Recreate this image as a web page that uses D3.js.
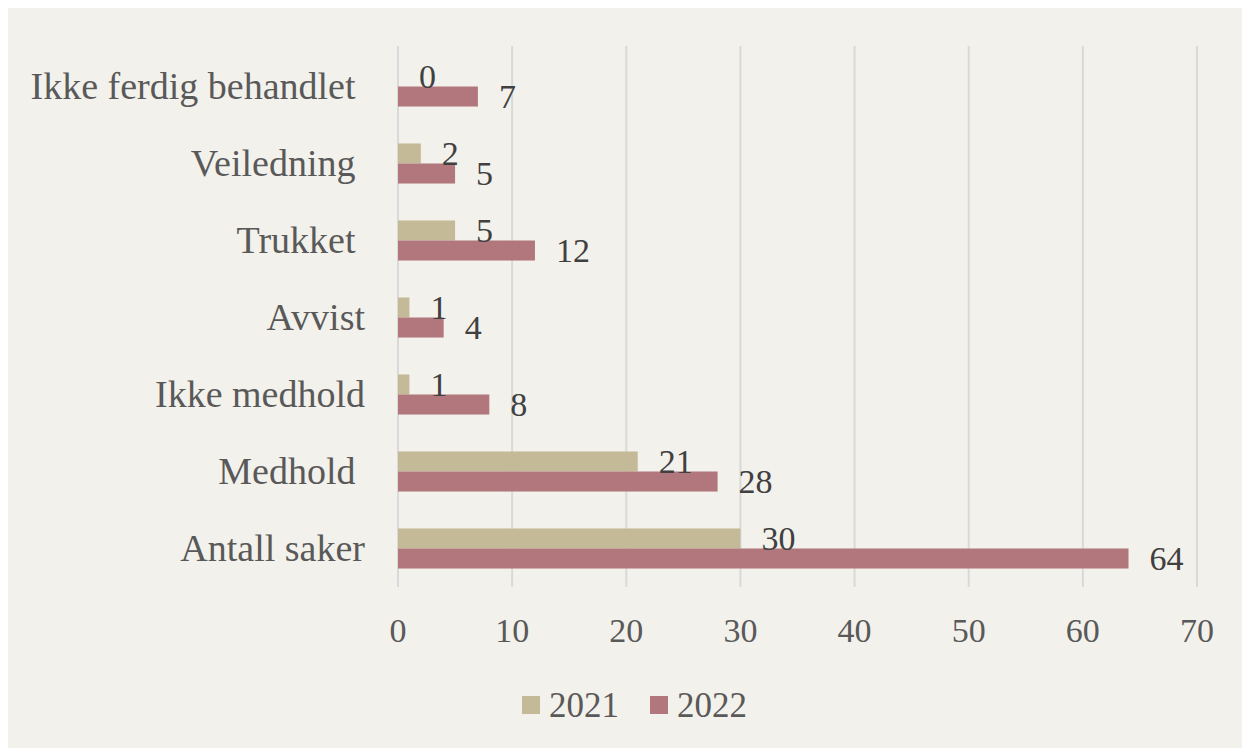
<!DOCTYPE html>
<html>
<head>
<meta charset="utf-8">
<script src="https://cdn.jsdelivr.net/npm/d3@7"></script>
<style>
  body { margin: 0; background: #fff; overflow: hidden; }
  svg { display: block; }
  text { font-family: "Liberation Serif", "Times New Roman", serif; white-space: pre; }
</style>
</head>
<body>
<div id="chart"></div>
<script>
// categories, top to bottom as shown
const categories = ["Ikke ferdig behandlet ", "Veiledning ", "Trukket ", "Avvist", "Ikke medhold", "Medhold ", "Antall saker"];
const years = ["2021", "2022"];
const values2021 = [0, 2, 5, 1, 1, 21, 30];
const values2022 = [7, 5, 12, 4, 8, 28, 64];
const xTicks = [0, 10, 20, 30, 40, 50, 60, 70];
const colors = { "2021": "#c4ba97", "2022": "#b2777c" };

const width = 1242, height = 748;

const svg = d3.select("#chart").append("svg")
    .attr("width", width)
    .attr("height", height);

svg.append("rect")
    .attr("x", 8).attr("y", 8)
    .attr("width", width - 8).attr("height", height - 8)
    .attr("fill", "#f3f1eb");

const x = d3.scaleLinear().domain([0, 70]).range([398, 1197]);

const y = d3.scaleBand()
    .domain(categories)
    .range([48, 587])
    .paddingInner(0.48)
    .paddingOuter(0.24);

const ySub = d3.scaleBand().domain(years).range([0, y.bandwidth()]);

// gridlines
svg.append("g")
    .selectAll("line")
    .data(xTicks)
    .enter().append("line")
    .attr("x1", d => x(d))
    .attr("x2", d => x(d))
    .attr("y1", 46)
    .attr("y2", 587)
    .attr("stroke", "#d9d9d9")
    .attr("stroke-width", 2);

// tick labels
svg.append("g")
    .selectAll("text")
    .data(xTicks)
    .enter().append("text")
    .attr("x", d => x(d))
    .attr("y", 642)
    .attr("text-anchor", "middle")
    .attr("font-size", 34)
    .attr("fill", "#595959")
    .text(d => d);

// category labels
svg.append("g")
    .selectAll("text")
    .data(categories)
    .enter().append("text")
    .attr("x", 365)
    .attr("y", d => y(d) + y.bandwidth() / 2)
    .attr("dy", "0.33em")
    .attr("text-anchor", "end")
    .attr("font-size", 38)
    .attr("fill", "#595959")
    .text(d => d);

const rows = [];
categories.forEach((c, i) => {
    rows.push({ cat: c, year: "2021", value: values2021[i] });
    rows.push({ cat: c, year: "2022", value: values2022[i] });
});

// bars
svg.append("g")
    .selectAll("rect")
    .data(rows)
    .enter().append("rect")
    .attr("x", x(0))
    .attr("y", d => y(d.cat) + ySub(d.year))
    .attr("width", d => x(d.value) - x(0))
    .attr("height", ySub.bandwidth())
    .attr("fill", d => colors[d.year]);

// value labels
svg.append("g")
    .selectAll("text")
    .data(rows)
    .enter().append("text")
    .attr("x", d => x(d.value) + 21)
    .attr("y", d => y(d.cat) + ySub(d.year) + ySub.bandwidth() / 2)
    .attr("dy", "0.34em")
    .attr("font-size", 34)
    .attr("fill", "#404040")
    .text(d => d.value);

// legend
const legend = svg.append("g")
    .selectAll("g")
    .data(years)
    .enter().append("g")
    .attr("transform", (d, i) => `translate(${522 + i * 128},0)`);

legend.append("rect")
    .attr("x", 0).attr("y", 696)
    .attr("width", 18).attr("height", 18)
    .attr("fill", d => colors[d]);

legend.append("text")
    .attr("x", 27)
    .attr("y", 717)
    .attr("font-size", 35)
    .attr("fill", "#595959")
    .text(d => d);
</script>
</body>
</html>
